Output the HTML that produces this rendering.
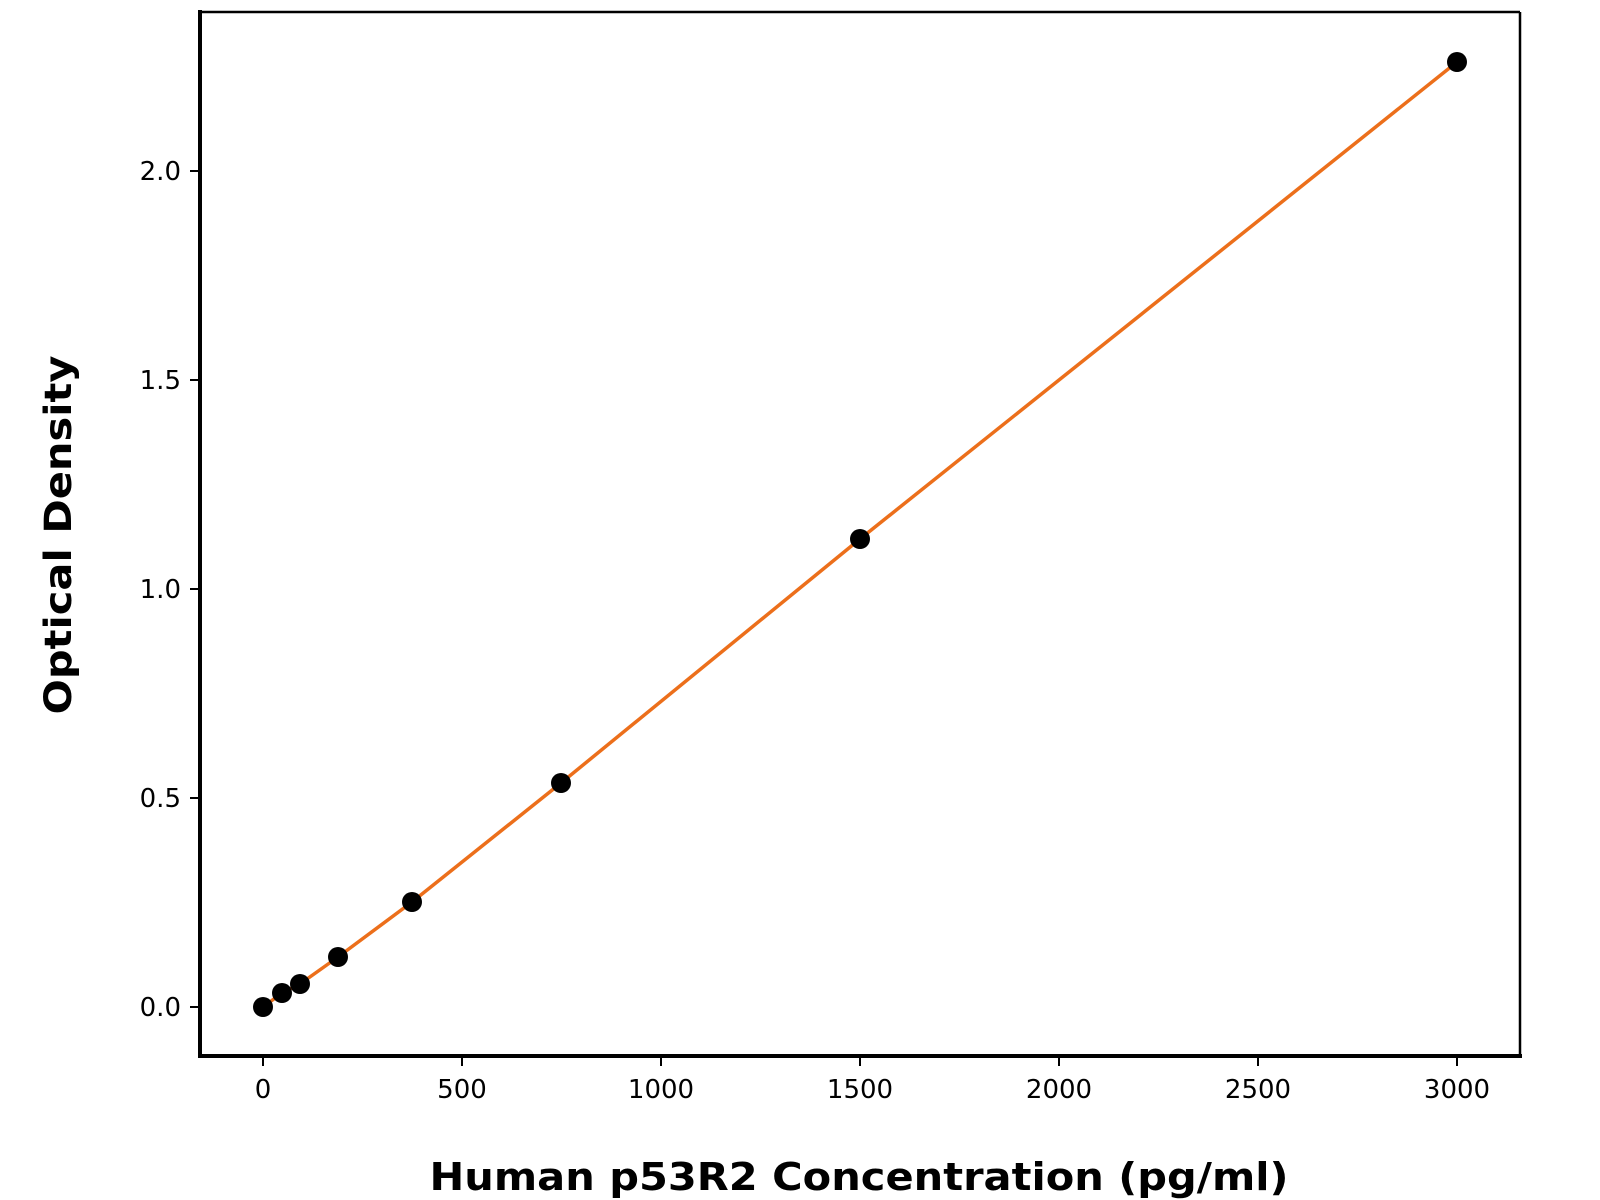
<!DOCTYPE html>
<html><head><meta charset="utf-8"><style>body{margin:0;background:#fff}svg{display:block}</style></head>
<body>
<svg width="1600" height="1200" viewBox="0 0 1600 1200" xmlns="http://www.w3.org/2000/svg" font-family="'DejaVu Sans','Liberation Sans',sans-serif">
<rect width="1600" height="1200" fill="#fff"/>
<line x1="200" y1="12" x2="1520" y2="12" stroke="#000" stroke-width="2.5"/>
<line x1="1520" y1="12" x2="1520" y2="1057" stroke="#000" stroke-width="2.5"/>
<line x1="200" y1="10" x2="200" y2="1058" stroke="#000" stroke-width="4"/>
<line x1="198" y1="1056" x2="1522" y2="1056" stroke="#000" stroke-width="4"/>
<g stroke="#000" stroke-width="2">
<line x1="190" y1="1007" x2="198" y2="1007"/>
<line x1="190" y1="798" x2="198" y2="798"/>
<line x1="190" y1="589" x2="198" y2="589"/>
<line x1="190" y1="380" x2="198" y2="380"/>
<line x1="190" y1="171" x2="198" y2="171"/>
<line x1="263" y1="1058" x2="263" y2="1066"/>
<line x1="462" y1="1058" x2="462" y2="1066"/>
<line x1="661" y1="1058" x2="661" y2="1066"/>
<line x1="860" y1="1058" x2="860" y2="1066"/>
<line x1="1059" y1="1058" x2="1059" y2="1066"/>
<line x1="1258" y1="1058" x2="1258" y2="1066"/>
<line x1="1457" y1="1058" x2="1457" y2="1066"/>
</g>
<g font-size="26" fill="#000" text-anchor="end">
<text x="181" y="1016">0.0</text>
<text x="181" y="807">0.5</text>
<text x="181" y="598">1.0</text>
<text x="181" y="389">1.5</text>
<text x="181" y="180">2.0</text>
</g>
<g font-size="26" fill="#000" text-anchor="middle">
<text x="263" y="1098">0</text>
<text x="462" y="1098">500</text>
<text x="661" y="1098">1000</text>
<text x="860" y="1098">1500</text>
<text x="1059" y="1098">2000</text>
<text x="1258" y="1098">2500</text>
<text x="1457" y="1098">3000</text>
</g>
<text x="859" y="1190" font-size="38" font-weight="bold" text-anchor="middle" textLength="859" lengthAdjust="spacingAndGlyphs">Human p53R2 Concentration (pg/ml)</text>
<text transform="translate(71,535) rotate(-90)" font-size="37" font-weight="bold" text-anchor="middle" textLength="359" lengthAdjust="spacingAndGlyphs">Optical Density</text>
<polyline fill="none" stroke="#ec6f1b" stroke-width="3.5" stroke-linejoin="round" points="263,1007 282,993 300,984 338,957 412,902 561,783 860,539 1457,62"/>
<g fill="#000">
<circle cx="263" cy="1007" r="10"/>
<circle cx="282" cy="993" r="10"/>
<circle cx="300" cy="984" r="10"/>
<circle cx="338" cy="957" r="10"/>
<circle cx="412" cy="902" r="10"/>
<circle cx="561" cy="783" r="10"/>
<circle cx="860" cy="539" r="10"/>
<circle cx="1457" cy="62" r="10"/>
</g>
</svg>
</body></html>
